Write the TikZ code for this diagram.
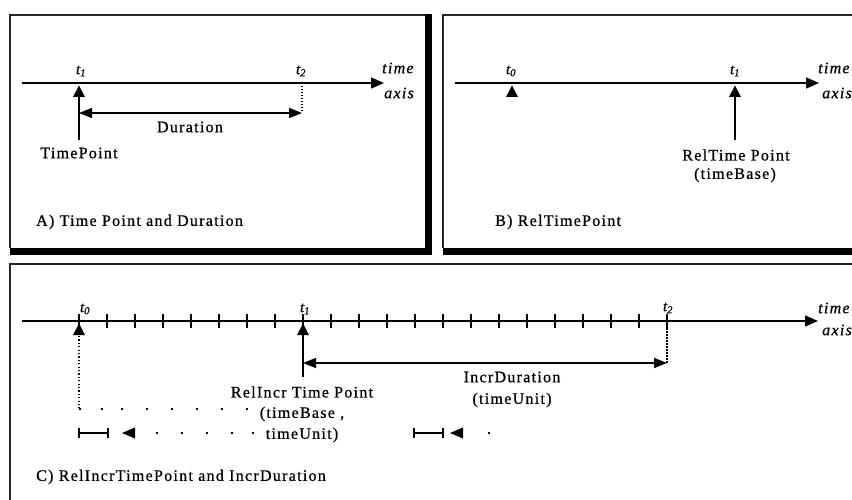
\documentclass[tikz,border=0pt]{standalone}
\usepackage{fontspec}
\setmainfont{Liberation Serif}
\newfontfamily\dfont[LetterSpace=8,FakeBold=0.7]{Liberation Serif}
\usetikzlibrary{arrows.meta}
\newcommand\tmarker[1]{\fill (#1) ++(0,2.5) -- ++(-6,11.5) -- ++(12,0) -- cycle;}
\begin{document}
\begin{tikzpicture}[x=1pt,y=-1pt,
  lbl/.style={font=\dfont\fontsize{16}{18}\selectfont, inner sep=0pt},
  tlbl/.style={font=\dfont\fontsize{15}{17}\selectfont\itshape, inner sep=0pt},
  axl/.style={font=\dfont\fontsize{16}{18}\selectfont\itshape, inner sep=0pt, anchor=west},
  ax/.style={line width=1.5pt, -{Triangle[length=13pt,width=11pt]}},
  dur/.style={line width=1.5pt, {Triangle[length=13pt,width=10pt]}-{Triangle[length=13pt,width=10pt]}},
  stem/.style={line width=1.5pt},
  vdash/.style={line width=1.2pt, dash pattern=on 1.5pt off 1.5pt},
  vdot/.style={line width=1.2pt, dash pattern=on 1.2pt off 2.2pt},
  frame/.style={line width=2pt, draw=black!85},
  tick/.style={line width=1.3pt},
]
\clip (0,0) rectangle (852,500);
\fill[white] (0,0) rectangle (852,500);

% ---------- Box A ----------
\draw[frame] (10,248) -- (10,15) -- (428,15);
\fill (425,14) rectangle (432,255);
\fill (10,248) rectangle (432,255);
\coordinate (Aa) at (22,83);
\coordinate (Ab) at (384,83);
\coordinate (At1) at (79,83);
\coordinate (At2) at (302,83);
\coordinate (At1s) at (79,97);
\coordinate (At1e) at (79,140);
\coordinate (At2d) at (302,113);
\coordinate (Adl) at (79,113);
\draw[ax] (Aa) -- (Ab);
\tmarker{At1}
\draw[stem] (At1s) -- (At1e);
\draw[vdash] ([yshift=-3pt]At2) -- (At2d);
\draw[dur] (Adl) -- (At2d);
\node[tlbl] (lAt1) at (81,71) {t\textsubscript{1}};
\node[tlbl] (lAt2) at (301,71) {t\textsubscript{2}};
\node[axl] (lAtime) at (382,68) {time};
\node[axl] (lAaxis) at (384,93) {axis};
\node[lbl] (lAdur) at (190,127) {Duration};
\node[lbl] (lAtp) at (79,153) {TimePoint};
\node[lbl, anchor=west] (capA) at (36,222) {A) Time Point and Duration};

% ---------- Box B ----------
\draw[frame] (443,248) -- (443,15) -- (860,15);
\fill (443,248) rectangle (860,255);
\coordinate (Ba) at (455,83);
\coordinate (Bb) at (819,83);
\coordinate (Bt0) at (512,83);
\coordinate (Bt1) at (735,83);
\coordinate (Bt1s) at (735,97);
\coordinate (Bt1e) at (735,140);
\draw[ax] (Ba) -- (Bb);
\tmarker{Bt0}
\tmarker{Bt1}
\draw[stem] (Bt1s) -- (Bt1e);
\node[tlbl] (lBt0) at (511,71) {t\textsubscript{0}};
\node[tlbl] (lBt1) at (735,71) {t\textsubscript{1}};
\node[axl] (lBtime) at (818,68) {time};
\node[axl] (lBaxis) at (822,93) {axis};
\node[lbl] (lBrtp) at (736,155) {RelTime Point};
\node[lbl] (lBtb) at (735,175) {(timeBase)};
\node[lbl, anchor=west] (capB) at (495,222) {B) RelTimePoint};

% ---------- Box C ----------
\draw[frame] (10,510) -- (10,264) -- (860,264);
\coordinate (Ca) at (22,321);
\coordinate (Cb) at (818,321);
\coordinate (Ct0) at (79,321);
\coordinate (Ct1) at (303,321);
\coordinate (Ct2) at (667,321);
\draw[ax] (Ca) -- (Cb);
\foreach \i in {0,...,21}
  \draw[tick] (79+28*\i,314) -- (79+28*\i,328);
\tmarker{Ct0}
\tmarker{Ct1}
\coordinate (Ct1s) at (303,335);
\coordinate (Ct1e) at (303,377);
\coordinate (Ct0s) at (79,336);
\coordinate (Ct0e) at (79,408);
\coordinate (Cdl) at (303,363);
\coordinate (Cdr) at (667,363);
\draw[stem] (Ct1s) -- (Ct1e);
\draw[vdot] (Ct0s) -- (Ct0e);
\draw[vdash] ([yshift=-7pt]Ct2) -- (Cdr);
\draw[dur] (Cdl) -- (Cdr);
\node[tlbl] (lCt0) at (85,309) {t\textsubscript{0}};
\node[tlbl] (lCt1) at (305,309) {t\textsubscript{1}};
\node[tlbl] (lCt2) at (668,308) {t\textsubscript{2}};
\node[axl] (lCtime) at (818,308) {time};
\node[axl] (lCaxis) at (822,330) {axis};
\node[lbl] (lCr1) at (302,392) {RelIncr Time Point};
\node[lbl] (lCr2) at (302,414) {(timeBase ,};
\node[lbl] (lCr3) at (302,435) {timeUnit)};
\node[lbl] (lCi1) at (512,377) {IncrDuration};
\node[lbl] (lCi2) at (512,400) {(timeUnit)};
\node[lbl, anchor=west] (capC) at (36,477) {C) RelIncrTimePoint and IncrDuration};
% dotted guide rows
\foreach \x in {80,102,122,147,172,197,222,247}
  \fill (\x-1,408) rectangle (\x+1,410);
\foreach \x in {157,182,207,232,253,489}
  \fill (\x-1,432) rectangle (\x+1,434);
% unit bars and arrowheads
\coordinate (U1a) at (79,433);
\coordinate (U1b) at (108,433);
\coordinate (U2a) at (414,433);
\coordinate (U2b) at (443,433);
\draw[line width=1.3pt] (U1a) -- (U1b);
\draw[line width=1.3pt] ([yshift=5pt]U1a) -- ([yshift=-5pt]U1a);
\draw[line width=1.3pt] ([yshift=5pt]U1b) -- ([yshift=-5pt]U1b);
\draw[line width=1.3pt] (U2a) -- (U2b);
\draw[line width=1.3pt] ([yshift=5pt]U2a) -- ([yshift=-5pt]U2a);
\draw[line width=1.3pt] ([yshift=5pt]U2b) -- ([yshift=-5pt]U2b);
\fill (122,433) -- (135,427.5) -- (135,438.5) -- cycle;
\fill (450,433) -- (463,427.5) -- (463,438.5) -- cycle;
\end{tikzpicture}
\end{document}
